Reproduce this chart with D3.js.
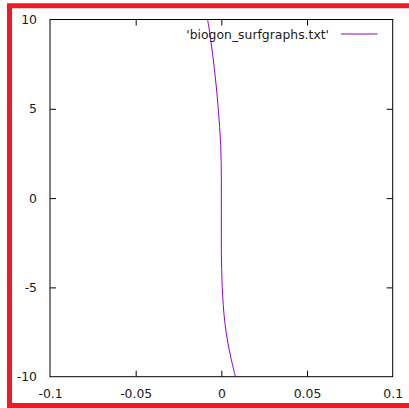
<!DOCTYPE html>
<html>
<head>
<meta charset="utf-8">
<script src="https://cdn.jsdelivr.net/npm/d3@7"></script>
<style>
html, body { margin: 0; padding: 0; background: #fff; }
svg { display: block; }
text { font-family: "DejaVu Sans", sans-serif; font-size: 12.4px; fill: #1a1a1a; }
</style>
</head>
<body>
<svg id="chart" width="409" height="408"></svg>
<script>
// Data
const seriesName = "'biogon_surfgraphs.txt'";
const yValues = [10, 9, 8, 7, 6, 5, 4, 3, 2, 1, 0, -1, -2, -3, -4, -5, -6, -7, -8, -9, -10];
const xValues = [-0.0080, -0.0064, -0.0050, -0.0038, -0.0027, -0.0018, -0.0010, -0.0004, -0.0001, 0.0000, 0.0000,
                 0.0000, 0.0000, 0.0000, 0.0002, 0.0005, 0.0011, 0.0021, 0.0036, 0.0057, 0.0082];
const xTicks = [-0.1, -0.05, 0, 0.05, 0.1];
const xTickLabels = ["-0.1", "-0.05", "0", "0.05", "0.1"];
const yTicks = [-10, -5, 0, 5, 10];
const yTickLabels = ["-10", "-5", "0", "5", "10"];

const svg = d3.select("#chart");
const mLeft = 50, mRight = 392.7, mTop = 19.5, mBottom = 376.7;

const x = d3.scaleLinear().domain([-0.1, 0.1]).range([mLeft, mRight]);
const y = d3.scaleLinear().domain([-10, 10]).range([mBottom, mTop]);

// red frame
svg.append("path")
  .attr("d", "M9.5,408 L9.5,5.8 L409,5.8 M9.5,405.5 L409,405.5")
  .attr("fill", "none").attr("stroke", "#ec1c24").attr("stroke-width", 5);

const clip = svg.append("defs").append("clipPath").attr("id", "clip");
clip.append("rect").attr("x", mLeft).attr("y", mTop).attr("width", mRight - mLeft).attr("height", mBottom - mTop);

// curve
const pts = yValues.map((v, i) => [xValues[i], v]);
svg.append("path")
  .datum(pts)
  .attr("clip-path", "url(#clip)")
  .attr("fill", "none")
  .attr("stroke", "#9400d3")
  .attr("stroke-width", 1)
  .attr("d", d3.line().x(d => x(d[0])).y(d => y(d[1])).curve(d3.curveCatmullRom));

// axes with inward ticks (gnuplot style), mirrored
const tl = 6;
const fs = 12.4;
const xb = svg.append("g").attr("transform", `translate(0,${mBottom})`)
  .call(d3.axisBottom(x).tickValues(xTicks).tickSize(-tl).tickPadding(tl + 8).tickFormat((d, i) => xTickLabels[i]));
const xt = svg.append("g").attr("transform", `translate(0,${mTop})`)
  .call(d3.axisTop(x).tickValues(xTicks).tickSize(-tl).tickFormat(""));
const yl = svg.append("g").attr("transform", `translate(${mLeft},0)`)
  .call(d3.axisLeft(y).tickValues(yTicks).tickSize(-tl).tickPadding(tl + 7).tickFormat((d, i) => yTickLabels[i]));
const yr = svg.append("g").attr("transform", `translate(${mRight},0)`)
  .call(d3.axisRight(y).tickValues(yTicks).tickSize(-tl).tickFormat(""));

[xb, xt, yl, yr].forEach(g => {
  g.select(".domain").remove();
  g.selectAll("line").attr("stroke", "#000").attr("stroke-width", 1);
  g.selectAll("text").attr("font-family", "DejaVu Sans, sans-serif").attr("font-size", fs).attr("fill", "#1a1a1a");
});
xb.selectAll("text").attr("dy", null).attr("y", 21.5);
xb.selectAll(".tick").filter((d, i) => i === 0 || i === xTicks.length - 1).select("line").remove();
xt.selectAll(".tick").filter((d, i) => i === 0 || i === xTicks.length - 1).select("line").remove();
yl.selectAll(".tick").filter((d, i) => i === 0 || i === yTicks.length - 1).select("line").remove();
yr.selectAll(".tick").filter((d, i) => i === 0 || i === yTicks.length - 1).select("line").remove();

// border
svg.append("rect")
  .attr("x", mLeft).attr("y", mTop).attr("width", mRight - mLeft).attr("height", mBottom - mTop)
  .attr("fill", "none").attr("stroke", "#000").attr("stroke-width", 1);

// legend
svg.append("text").attr("x", 329).attr("y", 38.5).attr("text-anchor", "end").attr("font-size", fs).text(seriesName);
svg.append("line").attr("x1", 341).attr("x2", 377.5).attr("y1", 34).attr("y2", 34)
  .attr("stroke", "#9400d3").attr("stroke-width", 1);
</script>
</body>
</html>
